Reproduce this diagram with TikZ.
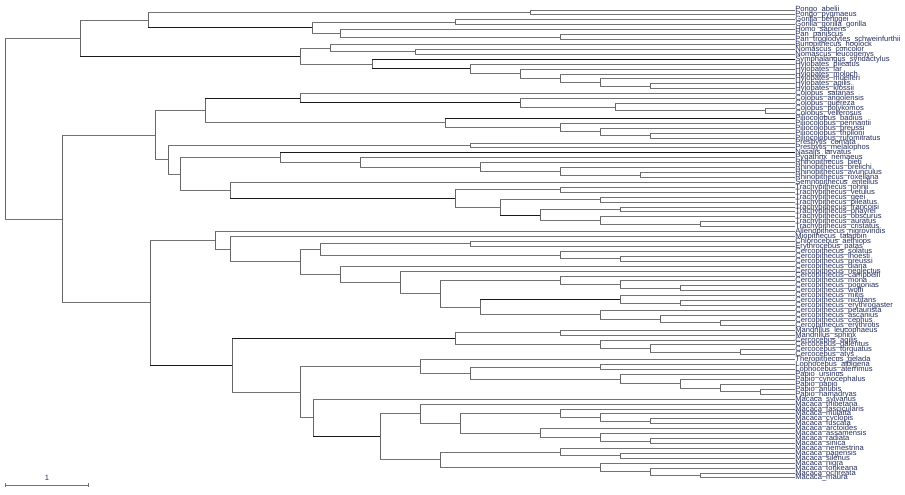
\documentclass[tikz,border=0pt]{standalone}
\usepackage{fontspec}
\setmainfont{Liberation Sans}
\usetikzlibrary{calc}
\definecolor{navy}{HTML}{263060}
\tikzset{
 lab/.style={anchor=west, inner sep=0pt, font=\fontsize{3.8}{3.8}\selectfont, text=navy},
 e0/.style={draw=black!90, line width=0.5pt},
 e2/.style={draw=black!55, line width=0.5pt},
 vl/.style={draw=black!60, line width=0.5pt},
}
\newcommand\clx[6]{%
 \path let \p1=(#3), \p2=(#4) in coordinate (#1) at ({#2*0.5pt},{0.5*(\y1+\y2)});
 \draw[vl] (#1 |- #3) -- (#1 |- #4);
 \draw[#5] (#1 |- #3) -- (#3);
 \draw[#6] (#1 |- #4) -- (#4);
}
\newcommand\cl[4]{\clx{#1}{#2}{#3}{#4}{e2}{e2}}
\begin{document}
\begin{tikzpicture}[x=0.5pt,y=-0.5pt]
\useasboundingbox (0,0) rectangle (905,494);
\foreach \t [count=\i] in {
Pongo\_abelii, Pongo\_pygmaeus, Gorilla\_beringei, Gorilla\_gorilla\_gorilla, Homo\_sapiens,
Pan\_paniscus, Pan\_troglodytes\_schweinfurthii, Bunopithecus\_hoolock, Nomascus\_concolor, Nomascus\_leucogenys,
Symphalangus\_syndactylus, Hylobates\_pileatus, Hylobates\_lar, Hylobates\_moloch, Hylobates\_muelleri,
Hylobates\_agilis, Hylobates\_klossii, Colobus\_satanas, Colobus\_angolensis, Colobus\_guereza,
Colobus\_polykomos, Colobus\_vellerosus, Piliocolobus\_badius, Piliocolobus\_pennantii, Piliocolobus\_preussi,
Piliocolobus\_tholloni, Piliocolobus\_rufomitratus, Presbytis\_comata, Presbytis\_melalophos, Nasalis\_larvatus,
Pygathrix\_nemaeus, Rhinopithecus\_bieti, Rhinopithecus\_brelichi, Rhinopithecus\_avunculus, Rhinopithecus\_roxellana,
Semnopithecus\_entellus, Trachypithecus\_johnii, Trachypithecus\_vetulus, Trachypithecus\_geei, Trachypithecus\_pileatus,
Trachypithecus\_francoisi, Trachypithecus\_phayrei, Trachypithecus\_obscurus, Trachypithecus\_auratus, Trachypithecus\_cristatus,
Allenopithecus\_nigroviridis, Miopithecus\_talapoin, Chlorocebus\_aethiops, Erythrocebus\_patas, Cercopithecus\_solatus,
Cercopithecus\_lhoesti, Cercopithecus\_preussi, Cercopithecus\_diana, Cercopithecus\_neglectus, Cercopithecus\_campbelli,
Cercopithecus\_mona, Cercopithecus\_pogonias, Cercopithecus\_wolfi, Cercopithecus\_mitis, Cercopithecus\_nictitans,
Cercopithecus\_erythrogaster, Cercopithecus\_petaurista, Cercopithecus\_ascanius, Cercopithecus\_cephus, Cercopithecus\_erythrotis,
Mandrillus\_leucophaeus, Mandrillus\_sphinx, Cercocebus\_agilis, Cercocebus\_galeritus, Cercocebus\_torquatus,
Cercocebus\_atys, Theropithecus\_gelada, Lophocebus\_albigena, Lophocebus\_aterrimus, Papio\_ursinus,
Papio\_cynocephalus, Papio\_papio, Papio\_anubis, Papio\_hamadryas, Macaca\_sylvanus,
Macaca\_thibetana, Macaca\_fascicularis, Macaca\_mulatta, Macaca\_cyclopis, Macaca\_fuscata,
Macaca\_arctoides, Macaca\_assamensis, Macaca\_radiata, Macaca\_sinica, Macaca\_nemestrina,
Macaca\_pagensis, Macaca\_silenus, Macaca\_nigra, Macaca\_tonkeana, Macaca\_ochreata, Macaca\_maura}
 \node[lab] (L\i) at (795,{10+(\i-1)*4.926}) {\t};
% Hominoidea
\cl{PON}{530}{L1.west}{L2.west}
\cl{GOR}{455}{L3.west}{L4.west}
\cl{PAN}{560}{L6.west}{L7.west}
\cl{HP}{340}{L5.west}{PAN}
\cl{HMN}{312}{GOR}{HP}
\clx{HOMD}{148}{PON}{HMN}{e2}{e0}
\cl{NOM}{415}{L9.west}{L10.west}
\cl{HY1}{330}{L8.west}{NOM}
\cl{H5}{650}{L16.west}{L17.west}
\cl{H4}{600}{L15.west}{H5}
\cl{H3}{560}{L14.west}{H4}
\cl{H2}{520}{L13.west}{H3}
\cl{HYLB}{470}{L12.west}{H2}
\clx{HY2}{372}{L11.west}{HYLB}{e0}{e0}
\cl{HYL}{300}{HY1}{HY2}
\clx{HOM}{80}{HOMD}{HYL}{e2}{e0}
% Colobinae
\cl{C4}{765}{L21.west}{L22.west}
\cl{C3}{615}{L20.west}{C4}
\cl{C2}{520}{L19.west}{C3}
\clx{COLB}{300}{L18.west}{C2}{e2}{e0}
\cl{P4}{650}{L26.west}{L27.west}
\cl{P3}{600}{L25.west}{P4}
\cl{P2}{560}{L24.west}{P3}
\clx{PIL}{445}{L23.west}{P2}{e0}{e2}
\clx{AFR}{205}{COLB}{PIL}{e0}{e2}
\cl{PRES}{470}{L28.west}{L29.west}
\cl{RH3}{640}{L34.west}{L35.west}
\cl{RH2}{560}{L33.west}{RH3}
\cl{RH}{480}{L32.west}{RH2}
\cl{ODD2}{360}{L31.west}{RH}
\clx{ODD}{280}{L30.west}{ODD2}{e0}{e2}
\cl{T1}{560}{L37.west}{L38.west}
\cl{T3}{600}{L39.west}{L40.west}
\cl{T5}{620}{L41.west}{L42.west}
\cl{T7}{700}{L44.west}{L45.west}
\cl{T6}{600}{L43.west}{T7}
\cl{T4}{540}{T5}{T6}
\clx{T2}{500}{T3}{T4}{e2}{e0}
\cl{TR}{455}{T1}{T2}
\clx{ST}{230}{L36.west}{TR}{e2}{e0}
\cl{REST}{180}{ODD}{ST}
\cl{ASI}{168}{PRES}{REST}
\cl{COL}{155}{AFR}{ASI}
% Cercopithecini
\cl{CHL}{470}{L48.west}{L49.west}
\cl{LH2}{620}{L51.west}{L52.west}
\cl{LH}{560}{L50.west}{LH2}
\cl{TE}{320}{CHL}{LH}
\cl{M3}{680}{L57.west}{L58.west}
\cl{M2}{620}{L56.west}{M3}
\cl{MON}{560}{L55.west}{M2}
\cl{M4}{680}{L60.west}{L61.west}
\cl{MIT}{620}{L59.west}{M4}
\cl{CP3}{720}{L64.west}{L65.west}
\cl{CP2}{660}{L63.west}{CP3}
\cl{CEP}{600}{L62.west}{CP2}
\clx{MC}{480}{MIT}{CEP}{e0}{e2}
\cl{CE3}{440}{MON}{MC}
\cl{CE2}{400}{L54.west}{CE3}
\cl{CE}{340}{L53.west}{CE2}
\cl{C6}{300}{TE}{CE}
\cl{C5}{230}{L47.west}{C6}
\cl{CRT}{215}{L46.west}{C5}
% Papionini
\cl{MAN}{560}{L66.west}{L67.west}
\cl{CB3}{740}{L70.west}{L71.west}
\cl{CB2}{650}{L69.west}{CB3}
\cl{CCB}{600}{L68.west}{CB2}
\cl{MC2}{455}{MAN}{CCB}
\cl{LOP}{600}{L73.west}{L74.west}
\cl{PA4}{760}{L78.west}{L79.west}
\cl{PA3}{720}{L77.west}{PA4}
\cl{PA2}{680}{L76.west}{PA3}
\cl{PAPIO}{620}{L75.west}{PA2}
\cl{LP}{470}{LOP}{PAPIO}
\cl{TLP}{420}{L72.west}{LP}
\cl{F3}{650}{L84.west}{L85.west}
\cl{F2}{600}{L83.west}{F3}
\cl{FAS}{560}{L82.west}{F2}
\cl{S3}{650}{L88.west}{L89.west}
\cl{S2}{600}{L87.west}{S3}
\cl{SIN}{540}{L86.west}{S2}
\cl{MF2}{460}{FAS}{SIN}
\cl{MF}{420}{L81.west}{MF2}
\cl{N2}{620}{L91.west}{L92.west}
\cl{NEM}{560}{L90.west}{N2}
\cl{C8}{700}{L95.west}{L96.west}
\cl{C7}{650}{L94.west}{C8}
\cl{CEL}{600}{L93.west}{C7}
\cl{SIL}{440}{NEM}{CEL}
\cl{MA}{380}{MF}{SIL}
\clx{MAC}{313}{L80.west}{MA}{e2}{e0}
\cl{PT}{300}{TLP}{MAC}
\clx{PAP}{232}{MC2}{PT}{e0}{e2}
\clx{CRC}{150}{CRT}{PAP}{e2}{e0}
\cl{CER}{62}{COL}{CRC}
\cl{ROOT}{5}{HOM}{CER}
% scale bar
\coordinate (s1) at (5.5,485);
\coordinate (s2) at (88,485);
\draw[e2] (s1) -- (s2);
\draw[e2] ([yshift=1pt]s1) -- ([yshift=-1pt]s1);
\draw[e2] ([yshift=1pt]s2) -- ([yshift=-1pt]s2);
\node[lab, anchor=center] (sl) at (47,478) {1};
\end{tikzpicture}
\end{document}
